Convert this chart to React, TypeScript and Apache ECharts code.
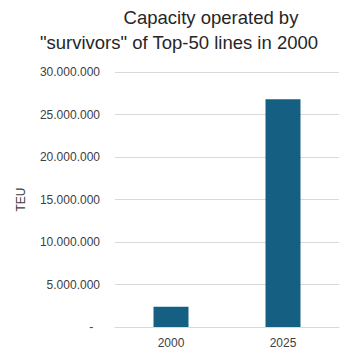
import React, { useEffect, useRef } from "react";
import * as echarts from "echarts";

const categories = ["2000", "2025"];
const capacityTEU = [2390000, 26800000];
const titleLines = ["Capacity operated by", "\"survivors\" of Top-50 lines in 2000"];
const yAxisName = "TEU";

function fmt(v: number): string {
  if (v === 0) return "-";
  return String(Math.round(v)).replace(/\B(?=(\d{3})+(?!\d))/g, ".");
}

export default function App() {
  const ref = useRef<HTMLDivElement>(null);
  useEffect(() => {
    if (!ref.current) return;
    const chart = echarts.init(ref.current, null, { renderer: "svg" });
    chart.setOption({
      animation: false,
      backgroundColor: "#ffffff",
      title: [
        {
          text: titleLines[0],
          left: 206,
          top: 3,
          textAlign: "center",
          textStyle: { fontFamily: "Liberation Sans", fontSize: 18.5, fontWeight: "normal", color: "#262626" },
        },
        {
          text: titleLines[1],
          left: 174,
          top: 28,
          textAlign: "center",
          textStyle: { fontFamily: "Liberation Sans", fontSize: 18.5, fontWeight: "normal", color: "#262626" },
        },
      ],
      grid: { left: 115, right: 24, top: 72, bottom: 37, containLabel: false },
      xAxis: {
        type: "category",
        data: categories,
        axisLine: { lineStyle: { color: "#d9d9d9", width: 1 } },
        axisTick: { show: false },
        axisLabel: { color: "#404040", fontFamily: "Liberation Sans", fontSize: 12, margin: 10 },
      },
      yAxis: {
        type: "value",
        min: 0,
        max: 30000000,
        interval: 5000000,
        name: yAxisName,
        nameLocation: "middle",
        nameGap: 88,
        nameRotate: 90,
        nameTextStyle: { color: "#404040", fontFamily: "Liberation Sans", fontSize: 12 },
        axisLine: { show: false },
        axisTick: { show: false },
        splitLine: { lineStyle: { color: "#d9d9d9", width: 1 } },
        axisLabel: {
          color: "#404040",
          fontFamily: "Liberation Sans",
          fontSize: 12,
          margin: 15,
          formatter: (v: number) => (v === 0 ? "-  " : fmt(v)),
        },
      },
      series: [
        {
          type: "bar",
          data: capacityTEU,
          barWidth: 35,
          itemStyle: { color: "#156082" },
        },
      ],
    });
    return () => chart.dispose();
  }, []);
  return <div ref={ref} style={{ width: 363, height: 364, position: "absolute", left: 0, top: 0 }} />;
}
